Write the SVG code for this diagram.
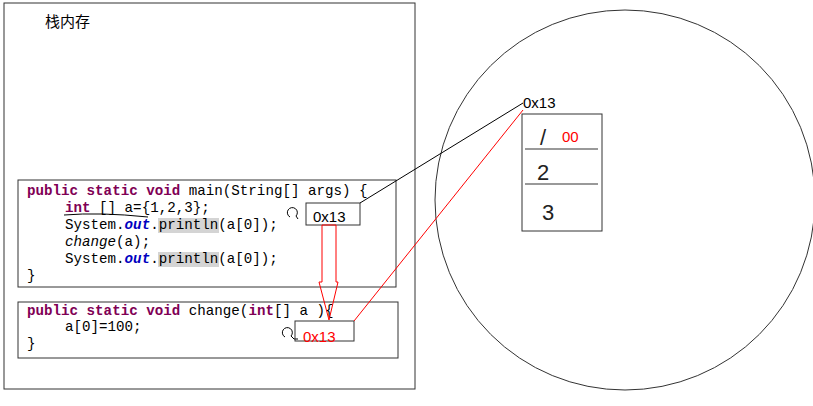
<svg xmlns="http://www.w3.org/2000/svg" width="813" height="406" viewBox="0 0 813 406">
<style>
.c{font-family:"Liberation Mono",monospace;font-size:14.2px;fill:#000}
.k{fill:#7f0055;font-weight:bold}
.f{fill:#0000c0;font-weight:bold;font-style:italic}
.b{fill:none;stroke:#333;stroke-width:1}
.s{font-family:"Liberation Sans","Noto Sans CJK SC",sans-serif;font-size:15px}
.h{font-family:"Liberation Sans",sans-serif;font-size:22px;fill:#222}
</style>
<rect width="813" height="406" fill="#fff"/>
<g id="stack"><rect x="4" y="3" width="411" height="386" class="b"/>
<text x="45" y="27" class="s" font-size="13">栈内存</text></g>
<g id="main">
<rect x="18" y="180" width="378" height="107" class="b"/>
<rect x="158" y="218" width="61" height="15" fill="#d4d4d4"/>
<rect x="158" y="252" width="61" height="15" fill="#d4d4d4"/>
<text class="c" x="27" y="195"><tspan class="k">public static void</tspan> main(String[] args) {</text>
<text class="c" x="65" y="212"><tspan class="k">int</tspan> [] a={1,2,3};</text>
<text class="c" x="65" y="229">System.<tspan class="f">out</tspan>.println(a[0]);</text>
<text class="c" x="65" y="246" font-style="italic">change<tspan font-style="normal">(a);</tspan></text>
<text class="c" x="65" y="263">System.<tspan class="f">out</tspan>.println(a[0]);</text>
<text class="c" x="27" y="280">}</text>
<path d="M64 215 Q100 212 148 217" fill="none" stroke="#000"/>
<path d="M290 217 a5 5 0 1 1 6 -1 l2 3" fill="none" stroke="#000"/>
<rect x="306" y="203" width="54" height="22" class="b"/>
<text x="313" y="222" class="s">0x13</text>
</g>
<g id="change">
<rect x="18" y="302" width="380" height="56" class="b"/>
<text class="c" x="27" y="315"><tspan class="k">public static void</tspan> change(<tspan class="k">int</tspan>[] a ){</text>
<text class="c" x="65" y="331">a[0]=100;</text>
<text class="c" x="27" y="348">}</text>
<path d="M285 337 a5 5 0 1 1 6 -1 l3 3 h4" fill="none" stroke="#000"/>
<rect x="295" y="321" width="59" height="20" class="b"/>
<text x="303" y="342" class="s" fill="#f00">0x13</text>
</g>
<g id="heap">
<ellipse cx="625" cy="200" rx="190" ry="190" class="b"/>
<text x="523" y="108" class="s">0x13</text>
<rect x="522" y="114" width="80" height="117" class="b"/>
<line x1="525" y1="149" x2="598" y2="149" stroke="#777" stroke-width="1.5"/>
<line x1="525" y1="184" x2="598" y2="184" stroke="#777" stroke-width="1.5"/>
<text x="540" y="145" class="h">/</text>
<text x="562" y="142" font-family="Liberation Sans,sans-serif" font-size="15" fill="#f00">00</text>
<text x="537" y="180" class="h">2</text>
<text x="542" y="220" class="h">3</text>
</g>
<g id="connectors" fill="none">
<line x1="360" y1="203" x2="523" y2="103" stroke="#000"/>
<line x1="354" y1="321" x2="523" y2="110" stroke="#f00"/>
<path d="M322 225 L336 225 L336 282 L338 282 L329 320 L319 282 L322 282 Z" stroke="#f00"/>
</g>
</svg>
